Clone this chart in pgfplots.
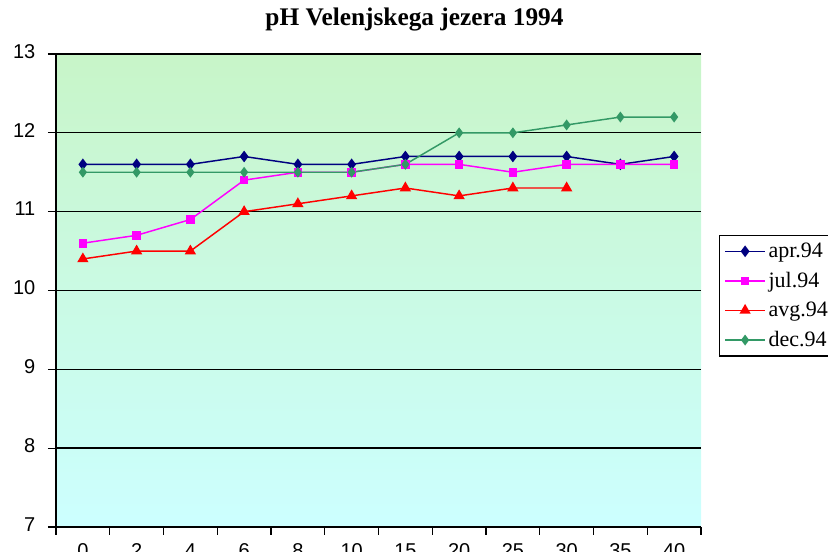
\documentclass[border=0pt]{standalone}
\usepackage{pgfplots}
\pgfplotsset{compat=1.18}
\usepackage{fontspec}
\setmainfont{Liberation Serif}
\newfontfamily\ticksans{Liberation Sans}
\definecolor{aprc}{HTML}{000080}
\definecolor{julc}{HTML}{FF00FF}
\definecolor{avgc}{HTML}{FF0000}
\definecolor{decc}{HTML}{339966}
\definecolor{bgtop}{HTML}{C8F5C8}
\definecolor{bgbot}{HTML}{CCFFFF}
\begin{document}
\begin{tikzpicture}
\useasboundingbox (-42pt,-18.75pt) rectangle (579pt,395.25pt);
\begin{axis}[
  at={(0,0)}, anchor=south west,
  scale only axis, width=483.75pt, height=354.75pt,
  xmin=-0.5, xmax=11.5, ymin=7, ymax=13,
  xtick={-0.5,0.5,1.5,2.5,3.5,4.5,5.5,6.5,7.5,8.5,9.5,10.5,11.5},
  xticklabels={},
  extra x ticks={0,...,11},
  extra x tick labels={0,2,4,6,8,10,15,20,25,30,35,40},
  extra x tick style={tick style={draw=none}, grid=none,
     tick label style={yshift=-3pt}},
  ytick={7,...,13},
  major tick length=6pt,
  ymajorgrids, grid style={black, line width=1pt},
  tick style={black, line width=0.8pt},
  tick align=outside,
  axis line style={black, line width=0.8pt},
  axis x line*=bottom, axis y line*=left,
  axis background/.style={top color=bgtop, bottom color=bgbot},
  /pgf/number format/assume math mode=true,
  tick label style={font=\ticksans\fontsize{15}{17}\selectfont},
  yticklabel style={yshift=2pt, xshift=-6pt},
  title={\textbf{pH Velenjskega jezera 1994}},
  title style={font=\fontsize{19}{21}\selectfont, yshift=8pt, xshift=27pt},
  legend style={at={(1.028,0.617)}, anchor=north west, draw=black, line width=0.8pt, fill=white,
    font=\fontsize{16.5}{19}\selectfont, row sep=5.5pt, inner sep=3.5pt,
    cells={anchor=west}},
  legend cell align=left,
  legend image code/.code={
    \draw[mark repeat=2,mark phase=2] plot coordinates {(0cm,0cm) (0.53cm,0cm) (1.06cm,0cm)};},
  every axis plot/.append style={line width=1.1pt},
]
\addplot[aprc, mark=diamond*, mark size=3.5pt] coordinates {
(0,11.6)(1,11.6)(2,11.6)(3,11.7)(4,11.6)(5,11.6)(6,11.7)(7,11.7)(8,11.7)(9,11.7)(10,11.6)(11,11.7)};
\addlegendentry{apr.94}
\addplot[julc, mark=square*, mark size=2.7pt] coordinates {
(0,10.6)(1,10.7)(2,10.9)(3,11.4)(4,11.5)(5,11.5)(6,11.6)(7,11.6)(8,11.5)(9,11.6)(10,11.6)(11,11.6)};
\addlegendentry{jul.94}
\addplot[avgc, mark=triangle*, mark size=3.8pt] coordinates {
(0,10.4)(1,10.5)(2,10.5)(3,11.0)(4,11.1)(5,11.2)(6,11.3)(7,11.2)(8,11.3)(9,11.3)};
\addlegendentry{avg.94}
\addplot[decc, mark=diamond*, mark size=3.2pt] coordinates {
(0,11.5)(1,11.5)(2,11.5)(3,11.5)(4,11.5)(5,11.5)(6,11.6)(7,12.0)(8,12.0)(9,12.1)(10,12.2)(11,12.2)};
\addlegendentry{dec.94}
\end{axis}
\end{tikzpicture}
\end{document}
